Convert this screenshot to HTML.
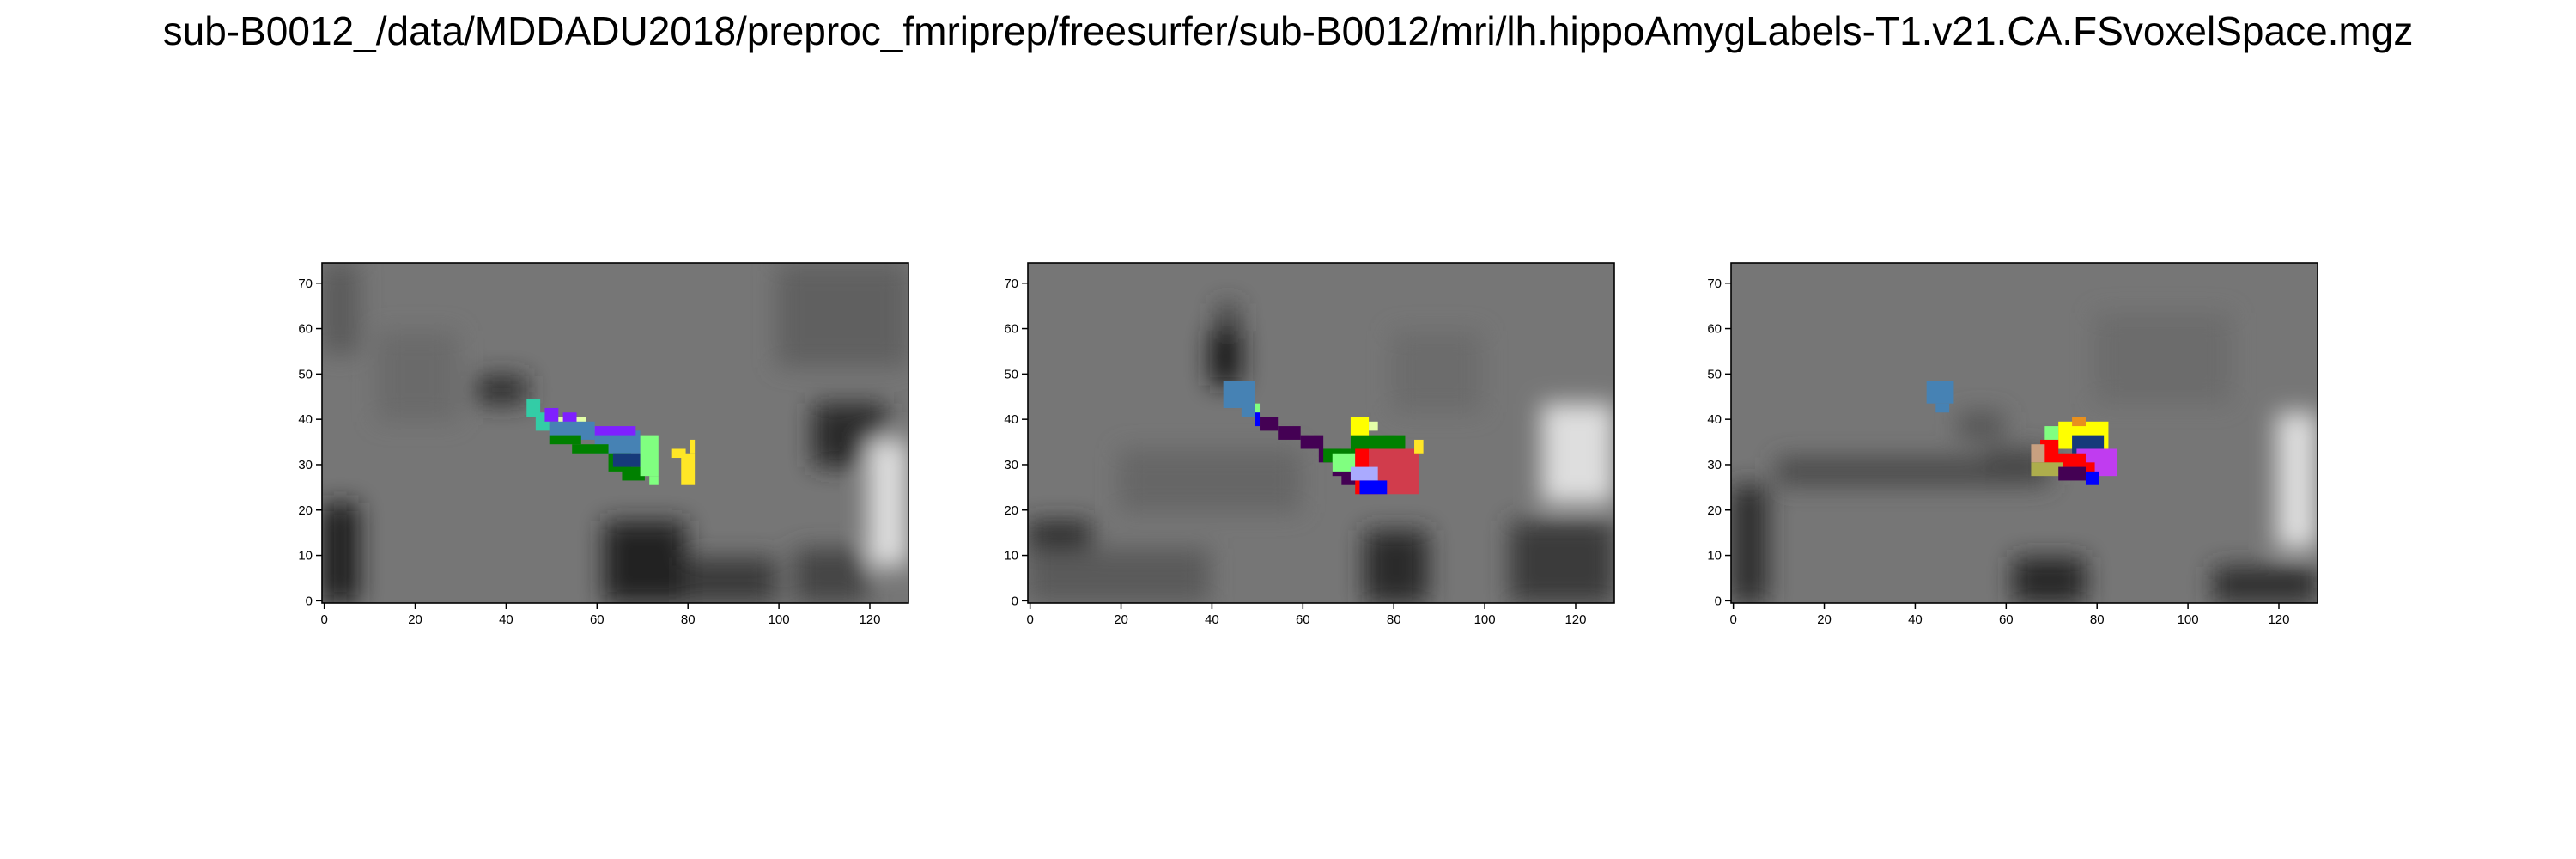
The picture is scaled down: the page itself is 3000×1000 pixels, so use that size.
<!DOCTYPE html>
<html><head><meta charset="utf-8">
<style>
html,body{margin:0;padding:0;background:#fff;}
svg{display:block;font-family:"Liberation Sans",sans-serif;}
</style></head>
<body>
<svg id="fig" width="3000" height="1000" viewBox="0 0 3000 1000" xmlns="http://www.w3.org/2000/svg">
<defs>
<filter id="blur" x="-20%" y="-20%" width="140%" height="140%"><feGaussianBlur stdDeviation="14"/></filter>
</defs>
<text x="1500" y="52" font-size="46" text-anchor="middle" fill="#000">sub-B0012_/data/MDDADU2018/preproc_fmriprep/freesurfer/sub-B0012/mri/lh.hippoAmygLabels-T1.v21.CA.FSvoxelSpace.mgz</text>
</svg>
<script>
const xTicks=[0,20,40,60,80,100,120];
const yTicks=[0,10,20,30,40,50,60,70];
const nx=129, ny=75;
const panelLefts=[375,1197,2016];
const bg1=[[0,0,8,22,"#1e1e1e"],[34,44,45,50,"#2a2a2a"],[62,0,80,18,"#222222"],[80,0,100,10,"#3a3a3a"],[108,30,124,44,"#2a2a2a"],[120,8,129,36,"#dddddd"],[104,0,120,12,"#444444"],[0,55,8,75,"#5a5a5a"],[12,40,30,60,"#6a6a6a"],[100,52,129,75,"#606060"]];
const bg2=[[0,0,14,18,"#2a2a2a"],[40,48,47,60,"#1e1e1e"],[42,60,46,66,"#3a3a3a"],[20,20,60,34,"#666666"],[74,0,88,16,"#2a2a2a"],[113,22,129,44,"#dedede"],[106,0,129,18,"#3a3a3a"],[80,42,100,60,"#6c6c6c"],[0,0,40,12,"#5a5a5a"]];
const bg3=[[0,0,8,26,"#2e2e2e"],[10,26,60,32,"#4a4a4a"],[62,0,78,10,"#262626"],[120,12,129,42,"#dedede"],[106,0,129,8,"#2e2e2e"],[56,26,70,34,"#464646"],[80,44,110,64,"#6c6c6c"],[50,36,60,42,"#555555"]];
const lab1=[[45,41,48,45,"#33cca6"],[47,38,50,42,"#33cca6"],[49,40,52,43,"#7f20ff"],[52,38,58,41,"#e4ffa8"],[53,39,56,42,"#7f20ff"],[58,37,60,39,"#e4ffa8"],[50,36,60,40,"#4682b4"],[60,33,70,38,"#4682b4"],[60,37,69,39,"#7f20ff"],[50,35,57,37,"#008000"],[55,33,63,35,"#008000"],[63,29,68,33,"#008000"],[66,27,71,30,"#008000"],[64,30,70,33,"#163a7a"],[70,28,74,37,"#80ff80"],[72,26,74,28,"#80ff80"],[79,26,82,33,"#ffe626"],[77,32,80,34,"#ffe626"],[81,33,82,36,"#ffe626"]];
const lab2=[[43,43,50,49,"#4682b4"],[47,41,50,44,"#4682b4"],[50,42,51,44,"#80ff80"],[50,39,51,42,"#0000ff"],[51,38,55,41,"#440154"],[55,36,60,39,"#440154"],[60,34,65,37,"#440154"],[64,31,69,34,"#440154"],[67,28,71,32,"#440154"],[69,26,73,29,"#440154"],[65,31,71,34,"#008000"],[71,33,83,37,"#008000"],[71,37,75,41,"#ffff00"],[75,38,77,40,"#e4ffa8"],[67,29,72,33,"#80ff80"],[72,24,77,34,"#ff0000"],[75,24,86,34,"#d13c4c"],[71,27,77,30,"#aaaaff"],[73,24,79,27,"#0000ff"],[85,33,87,36,"#ffe626"]];
const lab3=[[43,44,49,49,"#4682b4"],[45,42,48,44,"#4682b4"],[69,35,72,39,"#80ff80"],[72,34,83,40,"#ffff00"],[75,33,82,37,"#163a7a"],[76,28,85,34,"#c03cf0"],[68,31,72,36,"#ff0000"],[70,30,78,33,"#ff0000"],[76,28,80,31,"#ff0000"],[66,31,69,35,"#c8a080"],[66,28,73,31,"#adad4c"],[72,27,78,30,"#440154"],[78,26,81,29,"#0000ff"],[75,39,78,41,"#e8901e"]];
const bgs=[bg1,bg2,bg3], labs=[lab1,lab2,lab3];
const NS="http://www.w3.org/2000/svg";
const svgEl=document.getElementById('fig');
const axTop=306, W=683, H=396;
function mk(tag,attrs,parent){const e=document.createElementNS(NS,tag);for(const k in attrs)e.setAttribute(k,attrs[k]);(parent||svgEl).appendChild(e);return e;}
panelLefts.forEach((left,p)=>{
  const sx=v=>left+(v+0.5)*W/nx;
  const sy=v=>axTop+H-(v+0.5)*H/ny;
  const g=mk('g',{});
  
  
  const cp=mk('clipPath',{id:'cp'+p},g);
  mk('rect',{x:left,y:axTop,width:W,height:H},cp);
  const img=mk('g',{'clip-path':'url(#cp'+p+')'},g);
  const base=mk('rect',{x:left,y:axTop,width:W,height:H,fill:"#767676"},img);
  
  
  const bl=mk('g',{filter:'url(#blur)'},img);
  bgs[p].forEach(b=>{
    const r=mk('rect',{x:sx(b[0]-0.5),y:sy(b[3]-0.5),width:sx(b[2]-0.5)-sx(b[0]-0.5),height:sy(b[1]-0.5)-sy(b[3]-0.5),fill:b[4]},bl);
    
    
  });
  labs[p].forEach(b=>{
    const r=mk('rect',{x:sx(b[0]-0.5),y:sy(b[3]-0.5),width:sx(b[2]-0.5)-sx(b[0]-0.5),height:sy(b[1]-0.5)-sy(b[3]-0.5),fill:b[4]},img);
    
    
  });
  const fr=mk('rect',{x:left,y:axTop,width:W,height:H,fill:'none',stroke:'#000','stroke-width':1.6},g);
  
  
  xTicks.forEach(t=>{
    const x=sx(t);
    mk('line',{x1:x,x2:x,y1:axTop+H,y2:axTop+H+7,stroke:'#000','stroke-width':1.5},g);
    const tx=mk('text',{x:x,y:axTop+H+24,'font-size':15,'text-anchor':'middle'},g);
    tx.textContent=t;
    
    
  });
  yTicks.forEach(t=>{
    const y=sy(t);
    mk('line',{x1:left-7,x2:left,y1:y,y2:y,stroke:'#000','stroke-width':1.5},g);
    const tx=mk('text',{x:left-11,y:y+5,'font-size':15,'text-anchor':'end'},g);
    tx.textContent=t;
    
    
  });
});
</script>
</body></html>
